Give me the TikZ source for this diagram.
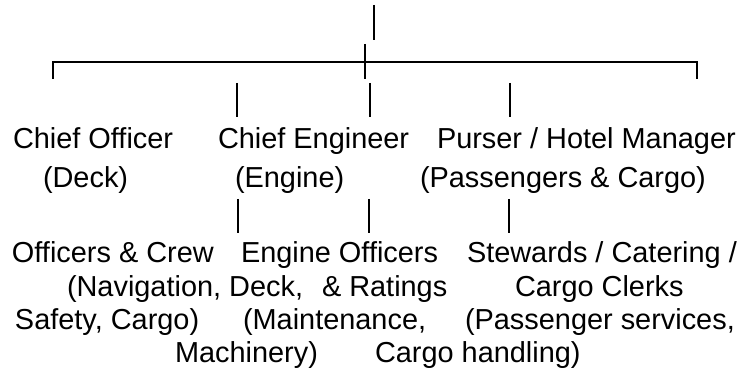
\documentclass[tikz,border=0pt]{standalone}
\usepackage{fontspec}
\setmainfont{Liberation Sans}
\begin{document}
\begin{tikzpicture}[x=1pt,y=-1pt,
  lbl/.style={anchor=base west,inner sep=0pt,outer sep=0pt,font=\fontsize{28.9}{34}\selectfont},
  bar/.style={line width=2.4pt},
  hbar/.style={line width=2.2pt,line join=miter}]
\useasboundingbox (0,0) rectangle (742,390);
% row A
\node[lbl] (co)  at (13,149)  {Chief Officer};
\node[lbl] (ce)  at (218,149) {Chief Engineer};
\node[lbl] (pu)  at (437,149) {Purser / Hotel Manager};
% row B
\node[lbl] (cod) at (43,188)  {(Deck)};
\node[lbl] (ced) at (235,188) {(Engine)};
\node[lbl] (pud) at (420,188) {(Passengers \& Cargo)};
% row C
\node[lbl] (oc)  at (12,263)  {Officers \& Crew};
\node[lbl] (eo)  at (241,263) {Engine Officers};
\node[lbl] (st)  at (467,263) {Stewards / Catering /};
% row D
\node[lbl] (ocd1) at (67,297)  {(Navigation, Deck,};
\node[lbl] (eod1) at (322,297) {\& Ratings};
\node[lbl] (std1) at (515,297) {Cargo Clerks};
% row E
\node[lbl] (ocd2) at (15,329)  {Safety, Cargo)};
\node[lbl] (eod2) at (243,329) {(Maintenance,};
\node[lbl] (std2) at (465,329) {(Passenger services,};
% row F
\node[lbl] (eod3) at (175,362) {Machinery)};
\node[lbl] (std3) at (375,362) {Cargo handling)};
% connectors
\coordinate (top1) at (374,5);
\coordinate (top2) at (374,40);
\coordinate (hl) at (52.7,79);
\coordinate (hlc) at (52.7,62);
\coordinate (hrc) at (696.7,62);
\coordinate (hr) at (696.7,79);
\coordinate (x1) at (365,44);
\coordinate (x2) at (365,79);
\draw[bar] (top1) -- (top2);
\draw[hbar] (hl) -- (hlc) -- (hrc) -- (hr);
\draw[bar] (x1) -- (x2);
\foreach \n/\x in {a/237,b/370,c/510}{
  \coordinate (r1\n a) at (\x,83);
  \coordinate (r1\n b) at (\x,117);
  \draw[bar] (r1\n a) -- (r1\n b);
}
\foreach \n/\x in {a/238,b/369,c/509}{
  \coordinate (r2\n a) at (\x,199);
  \coordinate (r2\n b) at (\x,233);
  \draw[bar] (r2\n a) -- (r2\n b);
}
\end{tikzpicture}
\end{document}
